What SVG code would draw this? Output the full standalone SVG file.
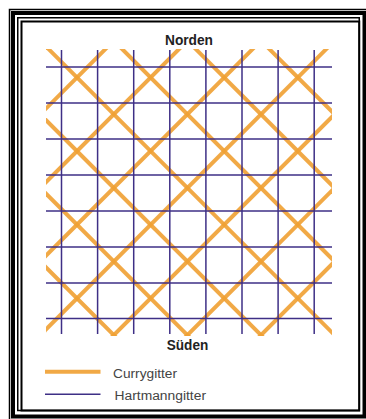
<svg xmlns="http://www.w3.org/2000/svg" width="366" height="419" viewBox="0 0 366 419">
<style>
.curry{stroke:#F0A032;stroke-width:4;stroke-opacity:0.9;fill:none;stroke-linecap:butt}
.hart{stroke:#3E2F86;stroke-width:1.5;fill:none}
.lbl{font-family:"Liberation Sans",Arial,sans-serif;font-weight:bold;font-size:14.5px;fill:#222;text-anchor:middle}
.leg{font-family:"Liberation Sans",Arial,sans-serif;font-size:12.5px;fill:#444}
</style>
<defs>
<clipPath id="gridclip"><rect x="46" y="49" width="286" height="287"/></clipPath>
</defs>
<rect width="366" height="419" fill="#ffffff"/>
<g id="frame" fill="none" stroke="#000">
<rect x="9.5" y="9.5" width="362" height="415" stroke-width="1.5"/>
<rect x="13" y="13" width="351.5" height="403.5" stroke-width="4"/>
<rect x="17.75" y="17.75" width="341.5" height="392.75" stroke-width="1.5"/>
<rect x="21.5" y="21.5" width="337.75" height="389" stroke-width="2"/>
</g>
<g id="curry-grid" clip-path="url(#gridclip)">
<g class="curry">
<line x1="0" y1="-220.3" x2="400" y2="179.7"/>
<line x1="0" y1="-146.7" x2="400" y2="253.3"/>
<line x1="0" y1="-73.1" x2="400" y2="326.9"/>
<line x1="0" y1="0.5" x2="400" y2="400.5"/>
<line x1="0" y1="74.1" x2="400" y2="474.1"/>
<line x1="0" y1="147.7" x2="400" y2="547.7"/>
<line x1="0" y1="221.3" x2="400" y2="621.3"/>
<line x1="0" y1="154.5" x2="400" y2="-245.5"/>
<line x1="0" y1="228.1" x2="400" y2="-171.9"/>
<line x1="0" y1="301.7" x2="400" y2="-98.3"/>
<line x1="0" y1="375.3" x2="400" y2="-24.7"/>
<line x1="0" y1="448.9" x2="400" y2="48.9"/>
<line x1="0" y1="522.5" x2="400" y2="122.5"/>
<line x1="0" y1="596.1" x2="400" y2="196.1"/>
</g>
</g>
<g id="hartmann-grid" class="hart">
<line x1="61.5" y1="50" x2="61.5" y2="334"/>
<line x1="97.6" y1="50" x2="97.6" y2="334"/>
<line x1="133.7" y1="50" x2="133.7" y2="334"/>
<line x1="169.8" y1="50" x2="169.8" y2="334"/>
<line x1="205.9" y1="50" x2="205.9" y2="334"/>
<line x1="242" y1="50" x2="242" y2="334"/>
<line x1="278.1" y1="50" x2="278.1" y2="334"/>
<line x1="314.2" y1="50" x2="314.2" y2="334"/>
<line x1="46" y1="67" x2="332" y2="67"/>
<line x1="46" y1="103" x2="332" y2="103"/>
<line x1="46" y1="139" x2="332" y2="139"/>
<line x1="46" y1="175" x2="332" y2="175"/>
<line x1="46" y1="211" x2="332" y2="211"/>
<line x1="46" y1="247" x2="332" y2="247"/>
<line x1="46" y1="283" x2="332" y2="283"/>
<line x1="46" y1="318.5" x2="332" y2="318.5"/>
</g>
<g id="labels">
<text class="lbl" x="189" y="44.5" textLength="48" lengthAdjust="spacingAndGlyphs">Norden</text>
<text class="lbl" x="187.5" y="349.5" textLength="41.5" lengthAdjust="spacingAndGlyphs">Süden</text>
</g>
<g id="legend">
<line class="curry" x1="45" y1="371.7" x2="100.5" y2="371.7"/>
<line class="hart" x1="45" y1="394.3" x2="100.5" y2="394.3"/>
<text class="leg" x="113" y="378" textLength="64" lengthAdjust="spacingAndGlyphs">Currygitter</text>
<text class="leg" x="114.5" y="400" textLength="91.5" lengthAdjust="spacingAndGlyphs">Hartmanngitter</text>
</g>
</svg>
